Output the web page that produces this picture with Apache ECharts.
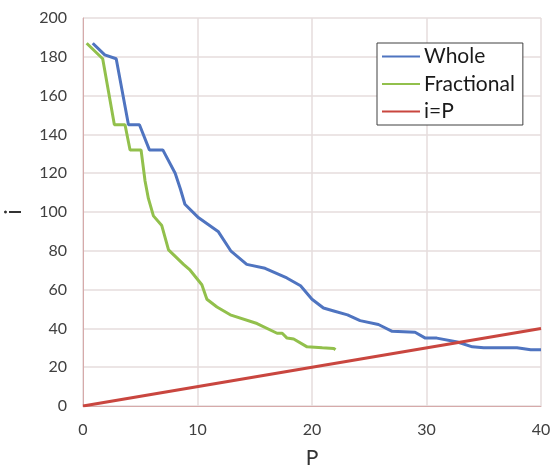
<!DOCTYPE html>
<html>
<head>
<meta charset="utf-8">
<script src="https://cdn.jsdelivr.net/npm/echarts@6/dist/echarts.min.js"></script>
<style>html,body{margin:0;padding:0;background:#fff;}#c{width:552px;height:473px;}</style>
</head>
<body>
<div id="c"></div>
<script>
const wholeP = [0.85, 1.9, 2.9, 3.97, 4.93, 5.8, 6.97, 8.05, 8.5, 8.9, 10.1, 11.8, 12.9, 14.3, 15.9, 17.8, 19.0, 20.0, 21.0, 21.9, 23.1, 24.2, 25.8, 27.0, 29.0, 29.9, 30.9, 32.7, 34.0, 35.0, 37.9, 39.1, 40];
const wholeI = [187, 181, 179, 145, 145, 132, 132, 120, 112, 104, 97, 90, 80, 73, 71, 66, 62, 55, 50.5, 49, 47, 44, 42, 38.5, 38, 35, 35, 33, 30.5, 30, 30, 29, 29];
const fracP = [0.32, 1.72, 2.74, 3.67, 4.11, 5.07, 5.42, 5.71, 6.15, 6.88, 7.47, 8.78, 9.36, 10.38, 10.82, 11.7, 12.86, 15.2, 16.95, 17.4, 17.82, 18.4, 19.57, 20.9, 21.9, 22.05];
const fracI = [187, 179, 145, 145, 132, 132, 116, 107, 98, 93, 80.5, 73, 70, 62.5, 55, 51, 47, 42.5, 37.5, 37.5, 35, 34.5, 30.5, 30, 29.7, 29];
const refP = [0, 40];
const refI = [0, 40];
const seriesNames = ['Whole', 'Fractional', 'i=P'];

const zip = (a, b) => a.map((v, k) => [v, b[k]]);
const chart = echarts.init(document.getElementById('c'));
const font = 'Lato, "Open Sans", sans-serif';
chart.setOption({
  animation: false,
  backgroundColor: '#fff',
  grid: { left: 83, right: 11, top: 18, bottom: 67, containLabel: false, outerBoundsMode: 'none' },
  legend: {
    orient: 'vertical', left: 377, top: 43,
    padding: [3, 8, 3, 5],
    itemGap: 6.5,
    itemWidth: 38, itemHeight: 2, icon: 'rect',
    borderColor: '#404040', borderWidth: 1, backgroundColor: '#fff',
    textStyle: { fontFamily: font, fontSize: 21, color: '#1a1a1a', lineHeight: 20, padding: [0, 0, 0, -1] },
    data: seriesNames
  },
  xAxis: {
    type: 'value', min: 0, max: 40, interval: 10,
    name: 'P', nameLocation: 'middle', nameGap: 42,
    nameTextStyle: { fontFamily: font, fontSize: 21, color: '#333' },
    axisLine: { show: true, lineStyle: { color: '#d6aaaa', width: 1 } },
    axisTick: { show: false },
    axisLabel: { fontFamily: font, fontSize: 16, color: '#404040', margin: 16 },
    splitLine: { show: true, lineStyle: { color: '#e6dddd', width: 1.5 } }
  },
  yAxis: {
    type: 'value', min: 0, max: 200, interval: 20,
    name: 'i', nameLocation: 'middle', nameGap: 58,
    nameTextStyle: { fontFamily: font, fontSize: 23, color: '#333' },
    axisLine: { show: true, lineStyle: { color: '#d6aaaa', width: 1 } },
    axisTick: { show: false },
    axisLabel: { fontFamily: font, fontSize: 16, color: '#404040', margin: 16 },
    splitLine: { show: true, lineStyle: { color: '#e6dddd', width: 1.5 } }
  },
  series: [
    { name: seriesNames[0], type: 'line', data: zip(wholeP, wholeI), showSymbol: false, symbol: 'none',
      lineStyle: { color: '#4f74c0', width: 3 }, itemStyle: { color: '#4f74c0' } },
    { name: seriesNames[1], type: 'line', data: zip(fracP, fracI), showSymbol: false, symbol: 'none',
      lineStyle: { color: '#92c04c', width: 3 }, itemStyle: { color: '#92c04c' } },
    { name: seriesNames[2], type: 'line', data: zip(refP, refI), showSymbol: false, symbol: 'none',
      lineStyle: { color: '#c9463f', width: 3 }, itemStyle: { color: '#c9463f' } }
  ]
});
</script>
</body>
</html>
